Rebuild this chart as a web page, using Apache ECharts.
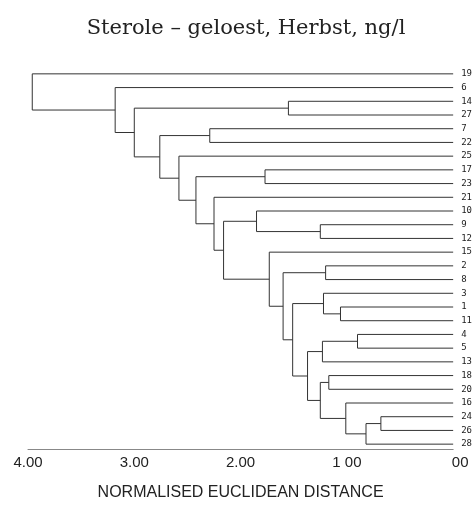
<!DOCTYPE html>
<html>
<head>
<meta charset="utf-8">
<script src="https://cdn.jsdelivr.net/npm/echarts/dist/echarts.min.js"></script>
<style>
  html, body { margin: 0; padding: 0; background: #fff; }
  #chart { width: 475px; height: 506px; }
</style>
</head>
<body>
<div id="chart"></div>
<script>
// leaves from top to bottom
var leaves = ['19', '6', '14', '27', '7', '22', '25', '17', '23', '21', '10', '9', '12', '15',
    '2', '8', '3', '1', '11', '4', '5', '13', '18', '20', '16', '24', '26', '28'];
// merge steps: a string is a leaf, a number is an earlier merge step
var mergeA = ['24', 0, '4', '16', '1', '18', '2', '3', 2, '9', 5, 8, 7, '14', 6, '15', '17', '10', 17, '21', '7', 16, '25', 20, 13, '6', '19'];
var mergeB = ['26', '28', '5', 1, '11', '20', '8', 4, '13', '12', 3, 10, 11, '27', 12, 14, '23', 9, 15, 18, '22', 19, 21, 22, 23, 24, 25];
var mergeHeight = [0.68, 0.82, 0.90, 1.01, 1.06, 1.17, 1.20, 1.22, 1.23, 1.25, 1.25, 1.37, 1.51, 1.55,
    1.60, 1.73, 1.77, 1.85, 2.16, 2.25, 2.29, 2.42, 2.58, 2.76, 3.00, 3.18, 3.96];
var tickLabels = ['00', '1 00', '2.00', '3.00', '4.00'];

// position (distance, row) of a leaf or merge node
var nodePos = [];
function pos(ref) {
    if (typeof ref === 'string') return [0, leaves.indexOf(ref)];
    return nodePos[ref];
}
var links = [];
for (var i = 0; i < mergeHeight.length; i++) {
    var a = pos(mergeA[i]), b = pos(mergeB[i]);
    nodePos.push([mergeHeight[i], (a[1] + b[1]) / 2]);
    links.push([a[0], a[1], b[0], b[1], mergeHeight[i]]);
}

var myChart = echarts.init(document.getElementById('chart'));
var option = {
    backgroundColor: '#fff',
    animation: false,
    title: {
        text: 'Sterole – geloest, Herbst, ng/l',
        left: 241,
        top: 13,
        textAlign: 'center',
        textStyle: {
            fontFamily: 'DejaVu Serif',
            fontWeight: 'normal',
            fontSize: 21,
            color: '#222'
        }
    },
    grid: {
        left: 28,
        right: 21,
        top: 67,
        bottom: 55
    },
    xAxis: {
        type: 'value',
        inverse: true,
        min: 0,
        max: 4,
        interval: 1,
        offset: -2,
        name: 'NORMALISED EUCLIDEAN DISTANCE',
        nameLocation: 'middle',
        nameGap: 36,
        nameTextStyle: {
            fontFamily: 'Liberation Sans',
            fontSize: 16,
            color: '#222'
        },
        axisLine: {onZero: false, lineStyle: {color: '#888', width: 1}},
        axisTick: {show: false},
        splitLine: {show: false},
        axisLabel: {
            margin: 6,
            fontFamily: 'Liberation Sans',
            fontSize: 15,
            color: '#222',
            formatter: function (v) {
                var t = tickLabels[Math.round(v)];
                return v === 0 ? '{z|' + t + '}' : t;
            },
            rich: {
                z: {fontFamily: 'Liberation Sans', fontSize: 15, color: '#222', padding: [0, 0, 0, 14]}
            }
        }
    },
    yAxis: [
        {
            type: 'category',
            inverse: true,
            position: 'right',
            data: leaves,
            axisLine: {show: false},
            axisTick: {show: false},
            axisLabel: {
                margin: 8,
                fontFamily: 'DejaVu Sans Mono',
                fontSize: 9,
                color: '#222',
                interval: 0
            }
        },
        {
            type: 'value',
            inverse: true,
            min: -0.5,
            max: 27.5,
            show: false
        }
    ],
    series: [
        {
            type: 'custom',
            yAxisIndex: 1,
            data: links,
            renderItem: function (params, api) {
                var p1 = api.coord([api.value(0), api.value(1)]);
                var p2 = api.coord([api.value(4), api.value(1)]);
                var p3 = api.coord([api.value(4), api.value(3)]);
                var p4 = api.coord([api.value(2), api.value(3)]);
                return {
                    type: 'polyline',
                    shape: {points: [p1, p2, p3, p4]},
                    style: {stroke: '#333', lineWidth: 1, fill: null}
                };
            }
        }
    ]
};
myChart.setOption(option);
</script>
</body>
</html>
